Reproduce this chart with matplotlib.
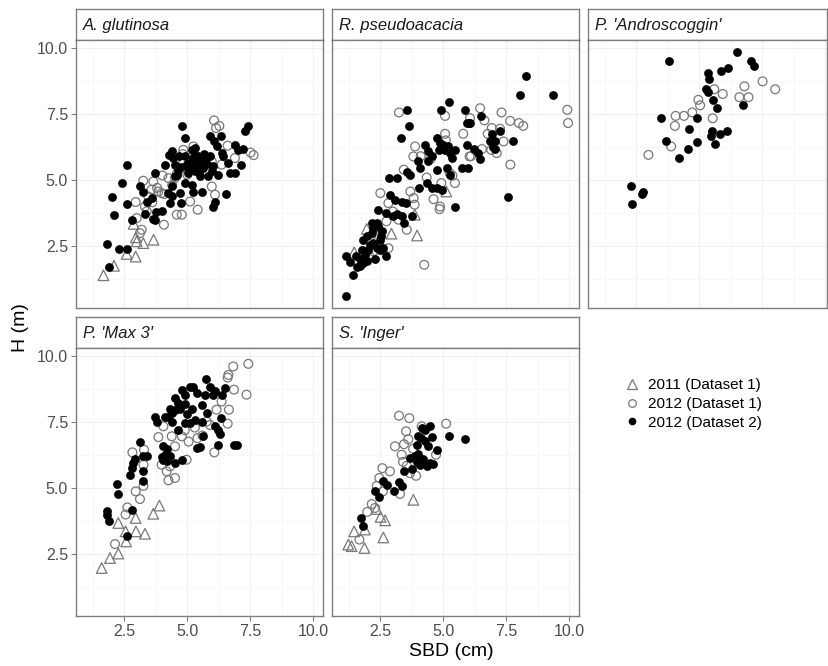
import numpy as np
import matplotlib
matplotlib.use("Agg")
import matplotlib.pyplot as plt
from matplotlib.lines import Line2D

plt.rcParams["font.family"] = ["Liberation Sans", "DejaVu Sans"]

# ---------------------------------------------------------------------------
# SBD (cm), H (m) pairs per species / clone and per dataset
# ---------------------------------------------------------------------------
aln_2011 = [(1.67, 1.38), (2.09, 1.74), (2.59, 2.19), (2.95, 2.09), (2.99, 2.67),
            (2.96, 2.82), (3.25, 2.60), (3.66, 2.73), (2.87, 3.33)]
aln_2012a = [(6.06, 7.26), (6.14, 6.97), (6.27, 7.05), (4.84, 6.14), (4.82, 5.98),
             (5.24, 6.27), (6.36, 5.58), (6.89, 5.83), (7.51, 6.04), (7.63, 5.94),
             (5.97, 5.70), (4.01, 5.17), (3.25, 4.97), (3.65, 4.94), (3.58, 4.63),
             (3.85, 4.56), (3.98, 4.50), (4.09, 4.46), (4.25, 5.07), (4.51, 5.07),
             (4.58, 5.23), (2.95, 4.16), (3.32, 3.99), (3.39, 3.81), (3.45, 4.37),
             (3.61, 4.15), (2.99, 3.55), (3.19, 3.11), (3.12, 2.98), (4.07, 3.30),
             (4.58, 3.68), (4.78, 3.68), (5.11, 4.18), (5.41, 3.87), (5.97, 4.75),
             (6.10, 4.44), (5.17, 5.51), (4.84, 5.64), (5.60, 5.50), (5.00, 5.20),
             (4.40, 4.80), (3.80, 4.70), (6.60, 6.30)]
aln_2012b = [(1.90, 1.69), (1.80, 2.58), (2.30, 2.38), (2.62, 2.38), (2.02, 4.35),
             (2.10, 3.68), (2.59, 4.08), (2.42, 4.87), (2.61, 5.56), (2.79, 3.46),
             (3.12, 4.78), (3.25, 4.56), (3.39, 4.15), (3.58, 4.31), (3.72, 5.27),
             (3.32, 3.70), (3.62, 3.51), (3.76, 3.77), (3.72, 3.46), (4.01, 3.83),
             (4.11, 5.58), (4.25, 4.50), (4.31, 4.12), (4.38, 4.76), (4.40, 4.40),
             (4.29, 5.93), (4.38, 6.08), (4.44, 5.83), (4.51, 5.58), (4.64, 5.39),
             (4.71, 4.50), (4.75, 4.12), (4.51, 5.13), (4.80, 7.03), (4.91, 6.59),
             (4.91, 5.89), (4.97, 5.51), (5.04, 5.26), (5.11, 5.64), (5.17, 6.14),
             (5.24, 5.83), (5.24, 4.56), (5.30, 5.32), (5.37, 5.58), (5.44, 5.89),
             (5.50, 5.13), (5.57, 4.56), (5.63, 5.45), (5.70, 5.70), (5.83, 5.13),
             (5.90, 6.65), (5.97, 5.32), (6.03, 5.51), (6.03, 3.99), (6.10, 4.18),
             (6.07, 6.46), (6.16, 6.27), (6.23, 5.20), (6.32, 6.65), (6.36, 6.02),
             (6.43, 5.89), (6.52, 4.48), (6.60, 5.64), (6.69, 5.26), (6.89, 5.26),
             (6.89, 6.33), (7.02, 6.14), (7.12, 5.58), (7.22, 6.17), (7.29, 6.84),
             (7.42, 7.05), (5.00, 5.60), (5.10, 5.40), (5.35, 5.90), (5.45, 5.30),
             (5.55, 5.75), (4.75, 5.50), (4.65, 5.90), (5.30, 6.20), (5.65, 6.00),
             (4.60, 5.20), (5.80, 5.60), (5.90, 5.90), (4.90, 4.90), (5.20, 4.80)]

rob_2011 = [(1.96, 3.14), (1.46, 2.25), (2.94, 2.96), (3.96, 2.89), (3.87, 3.68),
            (2.30, 3.00), (5.12, 4.56), (2.60, 2.40), (2.10, 2.20)]
rob_2012a = [(3.24, 7.56), (5.07, 7.43), (6.06, 7.34), (6.46, 7.72), (7.31, 7.56),
             (6.63, 7.26), (7.65, 7.24), (8.00, 7.16), (8.17, 7.05), (9.92, 7.66),
             (9.95, 7.16), (5.07, 6.75), (5.79, 6.75), (6.76, 6.75), (6.92, 6.97),
             (7.25, 6.94), (7.39, 6.46), (6.90, 6.14), (7.12, 6.02), (6.53, 6.17),
             (6.04, 5.89), (7.66, 5.58), (3.88, 6.27), (3.81, 5.89), (3.43, 5.39),
             (4.34, 5.09), (4.92, 4.88), (5.25, 5.26), (5.36, 5.16), (5.46, 4.88),
             (4.61, 4.27), (4.87, 3.99), (4.85, 3.89), (3.69, 4.56), (3.82, 4.31),
             (3.86, 4.06), (2.50, 4.50), (2.82, 4.12), (3.22, 3.49), (3.55, 3.11),
             (2.74, 3.43), (2.82, 2.41), (2.22, 2.29), (4.24, 1.78), (6.10, 5.90),
             (4.10, 5.90), (5.10, 6.50), (3.00, 3.80), (2.40, 3.20), (4.50, 5.80)]
rob_2012b = [(1.12, 0.61), (1.43, 1.38), (1.12, 2.10), (1.53, 2.10), (1.56, 1.69),
             (1.69, 1.72), (1.83, 1.85), (1.96, 1.91), (1.89, 2.16), (1.76, 2.35),
             (2.02, 2.35), (1.83, 2.73), (2.09, 2.54), (2.22, 2.60), (2.36, 2.41),
             (1.96, 2.86), (2.16, 2.98), (2.22, 3.17), (2.36, 3.36), (2.16, 3.36),
             (2.42, 3.24), (2.49, 2.73), (2.54, 2.86), (2.58, 3.05), (2.74, 2.10),
             (2.49, 2.35), (2.62, 2.41), (2.42, 3.87), (2.74, 3.74), (3.00, 3.62),
             (3.15, 3.72), (2.85, 5.07), (3.15, 5.07), (2.89, 4.44), (3.09, 4.25),
             (3.35, 4.18), (3.53, 4.12), (3.45, 3.36), (3.74, 3.62), (3.35, 3.62),
             (3.55, 5.30), (3.66, 5.20), (4.00, 5.70), (4.07, 5.45), (4.04, 4.69),
             (4.28, 6.33), (4.41, 6.08), (4.55, 5.89), (4.75, 6.59), (4.88, 6.40),
             (4.81, 6.14), (5.00, 6.33), (5.07, 6.14), (5.20, 6.27), (5.26, 6.02),
             (5.33, 5.83), (5.13, 5.45), (5.26, 5.20), (5.46, 6.14), (4.41, 5.70),
             (4.75, 5.36), (4.34, 4.88), (4.55, 4.69), (4.75, 4.69), (4.95, 4.63),
             (5.46, 3.97), (3.33, 6.59), (3.56, 7.64), (3.65, 7.05), (4.89, 7.66),
             (5.21, 7.94), (5.87, 7.64), (5.92, 7.15), (6.00, 7.15), (6.06, 7.15),
             (6.49, 7.43), (5.93, 6.33), (6.22, 6.17), (6.39, 6.02), (6.46, 5.80),
             (5.97, 5.45), (5.73, 5.45), (6.94, 6.75), (6.85, 6.46), (7.04, 6.46),
             (6.97, 6.24), (7.23, 6.86), (7.75, 6.46), (7.05, 6.17), (7.56, 4.37),
             (8.04, 8.23), (8.27, 8.93), (9.37, 8.23), (1.30, 1.90), (1.70, 2.00),
             (2.30, 2.00)]

and_2011 = []
and_2012a = [(2.98, 5.95), (3.88, 6.27), (4.03, 7.05), (4.06, 7.43), (4.39, 7.43),
             (4.72, 7.56), (4.96, 8.04), (5.03, 7.83), (5.53, 7.34), (5.59, 8.44),
             (5.93, 8.26), (6.79, 8.55), (6.59, 8.14), (6.95, 8.14), (7.51, 8.74),
             (8.01, 8.44)]
and_2012b = [(3.80, 9.53), (6.49, 9.84), (7.04, 9.53), (7.17, 9.33), (5.33, 9.05),
             (5.38, 8.82), (5.86, 9.13), (6.15, 9.23), (5.26, 8.44), (5.33, 8.32),
             (5.53, 8.04), (5.69, 7.72), (6.75, 7.83), (3.48, 7.34), (4.89, 7.34),
             (4.59, 6.94), (5.49, 6.84), (5.47, 6.65), (5.82, 6.75), (6.08, 6.84),
             (3.66, 6.46), (4.89, 6.43), (4.54, 6.17), (4.19, 5.85), (5.62, 6.36),
             (2.28, 4.78), (2.78, 4.56), (2.74, 4.48), (2.31, 4.08)]

max_2011 = [(1.60, 1.97), (1.93, 2.35), (2.26, 2.52), (2.57, 2.98), (2.26, 3.68),
            (2.55, 3.36), (2.96, 3.36), (3.32, 3.27), (2.95, 3.87), (3.65, 4.03),
            (3.89, 4.34)]
max_2012a = [(6.82, 9.62), (7.42, 9.72), (6.63, 9.30), (6.60, 9.20), (6.85, 8.74),
             (7.35, 8.55), (6.36, 8.29), (6.16, 7.98), (6.65, 7.98), (6.60, 7.45),
             (6.07, 6.36), (5.77, 7.53), (4.05, 7.35), (3.85, 6.94), (4.38, 6.97),
             (4.78, 6.97), (5.05, 6.77), (4.51, 6.59), (4.31, 5.83), (4.18, 5.64),
             (4.25, 5.30), (4.51, 5.39), (4.97, 6.08), (3.98, 5.89), (2.82, 6.36),
             (3.28, 6.46), (3.26, 5.89), (3.26, 5.09), (2.95, 4.88), (3.12, 4.59),
             (2.62, 4.27), (2.55, 4.00), (2.13, 2.88), (5.30, 7.30), (5.60, 7.00),
             (4.90, 7.20), (5.90, 7.40), (5.40, 6.90)]
max_2012b = [(1.83, 4.12), (1.90, 3.77), (1.80, 4.00), (2.62, 3.17), (2.26, 4.78),
             (2.20, 5.17), (2.79, 4.18), (2.72, 5.49), (2.79, 5.76), (2.86, 5.95),
             (2.92, 6.11), (3.12, 6.74), (3.25, 6.21), (3.39, 6.24), (3.23, 5.67),
             (3.23, 5.26), (3.72, 7.72), (3.78, 7.53), (4.05, 6.59), (4.11, 6.27),
             (4.05, 6.08), (4.18, 6.02), (4.31, 6.21), (4.51, 5.95), (4.80, 6.08),
             (4.11, 7.72), (4.25, 7.72), (4.38, 7.85), (4.51, 8.42), (4.51, 7.98),
             (4.64, 8.23), (4.78, 8.74), (4.91, 8.55), (5.11, 8.84), (5.24, 8.84),
             (4.91, 7.47), (5.11, 7.47), (4.64, 7.22), (5.73, 9.14), (5.70, 8.55),
             (5.90, 8.84), (6.00, 8.55), (6.36, 8.55), (6.49, 8.80), (5.57, 8.17),
             (5.77, 7.85), (5.63, 6.97), (5.37, 6.52), (5.50, 6.56), (6.10, 7.37),
             (6.20, 7.22), (6.30, 7.07), (6.32, 7.66), (6.23, 6.65), (6.87, 6.65),
             (6.98, 6.65), (4.30, 8.00), (4.90, 8.20), (5.20, 8.00), (5.00, 7.80),
             (4.40, 7.50), (5.40, 8.60), (5.30, 7.60), (4.00, 6.20), (4.20, 6.50),
             (5.60, 7.50), (6.10, 8.70), (4.70, 8.00)]

ing_2011 = [(3.81, 4.56), (2.51, 3.91), (2.69, 3.78), (1.89, 3.43), (1.46, 3.36),
            (1.23, 2.86), (1.36, 2.80), (1.87, 2.73), (2.62, 3.13), (2.35, 4.21)]
ing_2012a = [(3.24, 7.75), (3.65, 7.66), (4.14, 7.35), (5.11, 7.45), (3.52, 7.16),
             (3.61, 6.86), (3.44, 6.67), (3.08, 6.59), (3.35, 6.27), (3.55, 5.85),
             (3.68, 5.57), (3.92, 5.47), (4.71, 6.27), (2.58, 5.76), (2.88, 5.64),
             (2.46, 5.39), (2.36, 5.09), (2.60, 4.88), (3.28, 4.78), (2.16, 4.40),
             (2.29, 4.25), (1.98, 4.10), (1.67, 3.05), (3.80, 6.50), (3.40, 6.00)]
ing_2012b = [(1.73, 3.87), (1.83, 3.55), (2.29, 4.88), (2.45, 4.67), (2.62, 5.26),
             (2.75, 5.13), (3.04, 4.88), (3.25, 5.23), (3.35, 5.07), (3.44, 5.64),
             (3.74, 5.73), (3.68, 6.14), (3.88, 6.21), (3.94, 6.65), (4.01, 6.97),
             (4.14, 7.28), (4.27, 7.22), (4.47, 7.35), (4.54, 6.93), (4.27, 6.78),
             (4.07, 5.89), (4.34, 5.83), (4.47, 5.95), (4.60, 5.93), (4.74, 6.46),
             (5.24, 6.97), (5.86, 6.86), (4.20, 6.10), (4.00, 6.30), (4.40, 6.60),
             (4.10, 6.90), (3.95, 6.00)]

titles = ["A. glutinosa", "R. pseudoacacia", "P. 'Androscoggin'", "P. 'Max 3'", "S. 'Inger'"]
series_labels = ["2011 (Dataset 1)", "2012 (Dataset 1)", "2012 (Dataset 2)"]
tick_vals = [2.5, 5.0, 7.5, 10.0]

# ---------------------------------------------------------------------------
W, H = 829, 666
fig = plt.figure(figsize=(W / 100, H / 100), dpi=100)


def box(l, t, r, b):
    # pixel box (top-left origin) -> figure fraction
    return [l / W, 1 - b / H, (r - l) / W, (b - t) / H]


GREY = "#7F7F7F"
col_left = [75.7, 331.7, 587.7]
col_right = [322.7, 578.7, 827.0]
row_top = [9.0, 317.3]
strip_h, panel_h = 31.0, 267.7
px_per_x = 25.2
x0, y_lim = 0.57, (0.15, 10.31)

layout = [
    (titles[0], aln_2011, aln_2012a, aln_2012b, 0, 0),
    (titles[1], rob_2011, rob_2012a, rob_2012b, 1, 0),
    (titles[2], and_2011, and_2012a, and_2012b, 2, 0),
    (titles[3], max_2011, max_2012a, max_2012b, 0, 1),
    (titles[4], ing_2011, ing_2012a, ing_2012b, 1, 1),
]

for title, s11, s12a, s12b, c, r in layout:
    l, rr = col_left[c], col_right[c]
    st = row_top[r]

    # strip
    sax = fig.add_axes(box(l, st, rr, st + strip_h))
    sax.set_xticks([])
    sax.set_yticks([])
    for sp in sax.spines.values():
        sp.set_color(GREY)
        sp.set_linewidth(1.0)
    sax.text(7.5 / (rr - l), 0.48, title, transform=sax.transAxes, ha="left", va="center",
             fontsize=12, style="italic", color="#1A1A1A")

    ax = fig.add_axes(box(l, st + strip_h, rr, st + strip_h + panel_h))
    ax.set_xlim(x0, x0 + (rr - l) / px_per_x)
    ax.set_ylim(*y_lim)
    ax.set_xticks(tick_vals)
    ax.set_yticks(tick_vals)
    ax.set_xticks([1.25, 3.75, 6.25, 8.75], minor=True)
    ax.set_yticks([1.25, 3.75, 6.25, 8.75], minor=True)
    ax.xaxis.set_major_formatter(plt.FormatStrFormatter("%.1f"))
    ax.yaxis.set_major_formatter(plt.FormatStrFormatter("%.1f"))
    ax.grid(which="major", color="#EDEDED", lw=0.6)
    ax.grid(which="minor", color="#F5F5F5", lw=0.5)
    ax.set_axisbelow(True)
    for sp in ax.spines.values():
        sp.set_color(GREY)
        sp.set_linewidth(1.0)
    ax.tick_params(which="minor", length=0)
    ax.tick_params(which="major", direction="out", length=3.5, width=0.8, color=GREY,
                   labelsize=11.5, labelcolor="#4D4D4D", pad=2)
    ax.tick_params(axis="y", left=(c == 0), labelleft=(c == 0))
    bottom = (r == 1)
    ax.tick_params(axis="x", bottom=bottom, labelbottom=bottom)

    if s11:
        d = np.array(s11)
        ax.scatter(d[:, 0], d[:, 1], marker="^", s=58, facecolors="none",
                   edgecolors="#777777", linewidths=0.9, zorder=3)
    d = np.array(s12a)
    ax.scatter(d[:, 0], d[:, 1], marker="o", s=40, facecolors="none",
               edgecolors="#777777", linewidths=0.9, zorder=3)
    d = np.array(s12b)
    ax.scatter(d[:, 0], d[:, 1], marker="o", s=40, color="black",
               linewidths=0, zorder=4)

# axis titles
fig.text(451 / W, 1 - 652 / H, "SBD (cm)", ha="center", va="center", fontsize=14)
fig.text(20.5 / W, 1 - 328 / H, "H (m)", ha="center", va="center", rotation=90, fontsize=14)

# legend
handles = [
    Line2D([], [], ls="none", marker="^", ms=7, mfc="none", mec="#777777", mew=0.9),
    Line2D([], [], ls="none", marker="o", ms=5.5, mfc="none", mec="#777777", mew=0.9),
    Line2D([], [], ls="none", marker="o", ms=5.5, mfc="black", mec="black", mew=0),
]
fig.legend(handles, series_labels, loc="center left", bbox_to_anchor=(624 / W, 1 - 404 / H),
           frameon=False, fontsize=11, handlelength=1.0, handletextpad=0.6,
           labelspacing=0.3, borderpad=0, borderaxespad=0)

fig.savefig("out.png", dpi=100)
